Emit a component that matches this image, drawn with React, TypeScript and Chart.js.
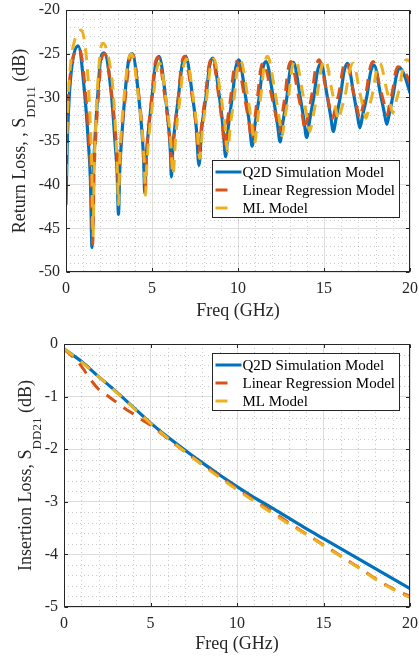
import React, { useEffect, useRef } from "react";
import { Chart, registerables } from "chart.js";

Chart.register(...registerables);

const FONT = "'Liberation Serif', 'Times New Roman', serif";
const TEXT = "#262626";
const C_Q2D = "#0072BD";
const C_LR = "#D95319";
const C_ML = "#EDB120";

const seriesNames = ["Q2D Simulation Model", "Linear Regression Model", "ML Model"];

// ---------- Return loss (SDD11) ----------
const rlFreqQ2D = [0, 0.08, 0.19, 0.37, 0.71, 1.1, 1.29, 1.42, 1.51, 1.59, 1.68, 1.84, 2.0, 2.22, 2.65, 2.84, 2.97, 3.05, 3.13, 3.23, 3.42, 3.62, 3.86, 4.22, 4.44, 4.52, 4.58, 4.66, 4.75, 5.0, 5.2, 5.41, 5.77, 5.99, 6.07, 6.13, 6.21, 6.3, 6.55, 6.75, 6.96, 7.35, 7.58, 7.73, 7.89, 8.14, 8.35, 8.54, 8.91, 9.13, 9.28, 9.43, 9.67, 9.87, 10.05, 10.44, 10.67, 10.82, 10.98, 11.23, 11.43, 11.63, 12.04, 12.29, 12.45, 12.6, 12.84, 13.03, 13.22, 13.61, 13.84, 13.99, 14.16, 14.41, 14.62, 14.82, 15.18, 15.4, 15.54, 15.71, 15.96, 16.17, 16.37, 16.73, 16.94, 17.08, 17.25, 17.5, 17.71, 17.91, 18.28, 18.5, 18.65, 18.8, 19.03, 19.22, 19.4, 19.7, 20.0];
const rlQ2D = [-42.3, -34.9, -29.9, -26.0, -24.1, -29.9, -34.9, -39.5, -47.2, -39.0, -34.9, -29.9, -25.8, -24.9, -29.9, -34.9, -38.5, -43.4, -38.0, -34.9, -29.9, -26.0, -25.0, -29.8, -34.6, -37.5, -41.0, -37.0, -34.7, -30.0, -26.3, -25.3, -29.7, -33.9, -36.3, -39.1, -35.8, -33.9, -29.7, -26.3, -25.3, -29.8, -33.6, -37.8, -33.6, -29.9, -26.4, -25.5, -29.8, -33.4, -36.8, -33.5, -29.9, -26.6, -25.7, -29.9, -33.1, -35.6, -33.2, -30.0, -26.8, -25.9, -29.9, -33.0, -35.1, -33.0, -30.0, -26.9, -26.0, -29.9, -32.7, -34.6, -32.7, -29.9, -27.0, -26.1, -29.8, -32.3, -33.9, -32.3, -29.8, -27.0, -26.1, -29.7, -32.0, -33.5, -32.0, -29.8, -27.1, -26.3, -29.6, -31.7, -33.1, -31.8, -29.6, -27.4, -26.6, -27.6, -29.5];

const rlFreqLR = [0, 0.12, 0.3, 0.5, 0.77, 1.16, 1.39, 1.47, 1.55, 1.63, 1.72, 1.88, 2.04, 2.26, 2.66, 2.89, 2.98, 3.05, 3.13, 3.22, 3.47, 3.68, 3.88, 4.24, 4.46, 4.54, 4.6, 4.68, 4.75, 4.98, 5.16, 5.35, 5.75, 5.99, 6.08, 6.15, 6.22, 6.3, 6.53, 6.71, 6.9, 7.31, 7.56, 7.72, 7.88, 8.11, 8.31, 8.5, 8.86, 9.08, 9.22, 9.36, 9.58, 9.76, 9.93, 10.37, 10.63, 10.8, 10.94, 11.14, 11.31, 11.48, 11.94, 12.22, 12.4, 12.54, 12.74, 12.91, 13.08, 13.49, 13.74, 13.9, 14.06, 14.31, 14.52, 14.72, 15.11, 15.34, 15.5, 15.66, 15.9, 16.1, 16.3, 16.69, 16.92, 17.08, 17.24, 17.47, 17.67, 17.86, 18.27, 18.52, 18.68, 18.8, 18.99, 19.15, 19.3, 19.65, 20.0];
const rlLR = [-33.4, -30.0, -26.5, -24.9, -24.4, -30.0, -36.7, -41.0, -46.8, -39.0, -35.0, -30.0, -25.9, -25.0, -29.7, -34.3, -37.0, -40.5, -37.0, -34.3, -29.7, -26.0, -25.1, -29.8, -34.5, -37.5, -40.8, -37.0, -34.6, -30.0, -26.3, -25.4, -30.0, -33.9, -35.8, -38.3, -35.8, -33.9, -30.0, -26.3, -25.3, -29.6, -33.1, -36.5, -33.2, -29.7, -26.4, -25.5, -29.6, -33.0, -35.6, -33.1, -29.9, -26.8, -25.9, -29.9, -32.8, -34.9, -32.9, -29.9, -26.9, -26.0, -29.7, -32.3, -33.9, -32.3, -29.7, -26.8, -25.9, -29.6, -32.1, -33.7, -32.1, -29.5, -26.6, -25.7, -29.0, -31.2, -32.4, -31.2, -29.2, -26.7, -25.9, -29.2, -31.2, -32.4, -31.2, -29.2, -26.7, -25.9, -29.0, -30.9, -32.0, -30.9, -29.2, -27.2, -26.5, -26.9, -28.3];

const rlFreqML = [0, 0.1, 0.25, 0.5, 0.88, 1.2, 1.38, 1.5, 1.57, 1.64, 1.72, 1.85, 2.0, 2.15, 2.5, 2.75, 2.9, 2.99, 3.05, 3.12, 3.2, 3.4, 3.6, 3.8, 4.21, 4.46, 4.56, 4.62, 4.7, 4.79, 5.04, 5.25, 5.45, 5.84, 6.07, 6.22, 6.38, 6.61, 6.82, 7.0, 7.39, 7.62, 7.77, 7.94, 8.19, 8.4, 8.6, 9.0, 9.24, 9.4, 9.55, 9.78, 9.96, 10.15, 10.56, 10.8, 10.96, 11.11, 11.34, 11.53, 11.72, 12.14, 12.39, 12.56, 12.72, 12.96, 13.15, 13.35, 13.76, 14.01, 14.17, 14.35, 14.62, 14.85, 15.07, 15.46, 15.69, 15.84, 16.01, 16.27, 16.49, 16.7, 17.07, 17.29, 17.44, 17.6, 17.85, 18.05, 18.25, 18.63, 18.85, 19.0, 19.16, 19.4, 19.6, 19.8, 20.0];
const rlML = [-39.0, -31.5, -26.5, -23.5, -22.3, -25.7, -31.5, -38.0, -46.0, -38.0, -33.5, -28.3, -24.6, -23.8, -25.7, -29.5, -34.5, -38.5, -42.3, -37.5, -34.2, -29.5, -26.0, -25.0, -29.9, -34.7, -37.8, -41.2, -37.8, -35.2, -30.6, -27.0, -26.1, -30.7, -34.5, -38.9, -34.4, -30.4, -26.6, -25.6, -29.9, -33.6, -37.0, -33.6, -29.9, -26.5, -25.6, -29.8, -33.2, -36.2, -33.3, -30.0, -26.7, -25.8, -29.9, -33.0, -35.3, -33.0, -29.6, -26.3, -25.3, -29.3, -32.3, -34.4, -32.4, -29.6, -26.6, -25.7, -29.5, -32.3, -33.9, -32.3, -29.5, -26.6, -25.7, -29.2, -31.4, -32.6, -31.4, -29.4, -26.9, -26.1, -29.3, -31.3, -32.4, -31.3, -29.3, -26.9, -26.1, -29.0, -30.8, -31.8, -30.7, -28.8, -26.5, -25.7, -25.9];

// ---------- Insertion loss (SDD21) ----------
const ilFreq = [0, 1, 2, 3, 4, 5, 6, 7, 8, 9, 10, 11, 12, 13, 14, 15, 16, 17, 18, 19, 20];
const ilQ2D = [-0.09, -0.33, -0.62, -0.9, -1.2, -1.5, -1.77, -2.02, -2.26, -2.49, -2.71, -2.92, -3.11, -3.31, -3.51, -3.7, -3.89, -4.08, -4.27, -4.46, -4.65];
const ilML = [-0.09, -0.34, -0.62, -0.91, -1.21, -1.51, -1.79, -2.05, -2.3, -2.54, -2.77, -2.99, -3.21, -3.42, -3.62, -3.83, -4.04, -4.25, -4.47, -4.66, -4.82];
const ilFreqLR = [0, 0.5, 1, 1.5, 2, 2.5, 3, 3.5, 4, 4.5, 5, 6, 7, 8, 9, 10, 11, 12, 13, 14, 15, 16, 17, 18, 19, 20];
const ilLR = [-0.1, -0.24, -0.42, -0.66, -0.86, -0.98, -1.1, -1.22, -1.33, -1.44, -1.54, -1.8, -2.05, -2.29, -2.52, -2.75, -2.97, -3.18, -3.4, -3.61, -3.82, -4.03, -4.24, -4.46, -4.65, -4.8];

// tick settings
const xTicks = { min: 0, max: 20, major: 5, minor: 1 };
const rlTicks = { min: -50, max: -20, major: 5, minor: 1 };
const ilTicks = { min: -5, max: 0, major: 1, minor: 0.2 };

const pts = (xs: number[], ys: number[]) => xs.map((x, i) => ({ x, y: ys[i] }));

type PanelCfg = {
  yMain: string;
  ySub: string;
  yAfter: string;
  yTitleOffset: number;
  legendTop: number;
  legendRight: number;
  yT: typeof rlTicks;
  xTitleOffset: number;
};

function makeFramePlugin(cfg: PanelCfg) {
  return {
    id: "matlabFrame",
    beforeDatasetsDraw(chart: any) {
      const { ctx, chartArea: a, scales } = chart;
      const xs = scales.x;
      const ys = scales.y;
      ctx.save();
      ctx.strokeStyle = "rgba(38,38,38,0.24)";
      ctx.lineWidth = 1;
      ctx.setLineDash([1, 3]);
      const nx = Math.round((xTicks.max - xTicks.min) / xTicks.minor);
      for (let i = 0; i <= nx; i++) {
        const v = xTicks.min + i * xTicks.minor;
        const r = v / xTicks.major;
        if (Math.abs(r - Math.round(r)) < 1e-6) continue;
        const px = Math.round(xs.getPixelForValue(v)) + 0.5;
        ctx.beginPath();
        ctx.moveTo(px, a.top);
        ctx.lineTo(px, a.bottom);
        ctx.stroke();
      }
      const yt = cfg.yT;
      const ny = Math.round((yt.max - yt.min) / yt.minor);
      for (let i = 0; i <= ny; i++) {
        const v = yt.min + i * yt.minor;
        const r = v / yt.major;
        if (Math.abs(r - Math.round(r)) < 1e-6) continue;
        const py = Math.round(ys.getPixelForValue(v)) + 0.5;
        ctx.beginPath();
        ctx.moveTo(a.left, py);
        ctx.lineTo(a.right, py);
        ctx.stroke();
      }
      ctx.restore();
    },
    afterDraw(chart: any) {
      const { ctx, chartArea: a, scales } = chart;
      const xs = scales.x;
      const ys = scales.y;
      ctx.save();
      ctx.strokeStyle = TEXT;
      ctx.lineWidth = 1;
      ctx.setLineDash([]);
      const L = Math.round(a.left) + 0.5;
      const R = Math.round(a.right) - 0.5;
      const T = Math.round(a.top) + 0.5;
      const B = Math.round(a.bottom) - 0.5;
      ctx.strokeRect(L, T, R - L, B - T);
      const tl = 3.5;
      ctx.beginPath();
      const nxm = Math.round((xTicks.max - xTicks.min) / xTicks.major);
      for (let i = 0; i <= nxm; i++) {
        const px = Math.round(xs.getPixelForValue(xTicks.min + i * xTicks.major)) + 0.5;
        ctx.moveTo(px, B);
        ctx.lineTo(px, B - tl);
        ctx.moveTo(px, T);
        ctx.lineTo(px, T + tl);
      }
      const yt = cfg.yT;
      const nym = Math.round((yt.max - yt.min) / yt.major);
      for (let i = 0; i <= nym; i++) {
        const py = Math.round(ys.getPixelForValue(yt.min + i * yt.major)) + 0.5;
        ctx.moveTo(L, py);
        ctx.lineTo(L + tl, py);
        ctx.moveTo(R, py);
        ctx.lineTo(R - tl, py);
      }
      ctx.stroke();

      ctx.fillStyle = TEXT;
      ctx.font = `18px ${FONT}`;
      ctx.textAlign = "center";
      ctx.textBaseline = "middle";
      ctx.fillText("Freq (GHz)", (a.left + a.right) / 2, a.bottom + cfg.xTitleOffset);

      ctx.save();
      ctx.translate(a.left - cfg.yTitleOffset, (a.top + a.bottom) / 2);
      ctx.rotate(-Math.PI / 2);
      ctx.textAlign = "left";
      ctx.textBaseline = "alphabetic";
      const mainFont = `18px ${FONT}`;
      const subFont = `13px ${FONT}`;
      ctx.font = mainFont;
      const w1 = ctx.measureText(cfg.yMain).width;
      const w3 = ctx.measureText(cfg.yAfter).width;
      ctx.font = subFont;
      const w2 = ctx.measureText(cfg.ySub).width;
      let cx = -(w1 + w2 + w3) / 2;
      ctx.font = mainFont;
      ctx.fillText(cfg.yMain, cx, 0);
      cx += w1;
      ctx.font = subFont;
      ctx.fillText(cfg.ySub, cx, 10);
      cx += w2;
      ctx.font = mainFont;
      ctx.fillText(cfg.yAfter, cx, 0);
      ctx.restore();

      const lw = 187;
      const lh = 57;
      const lx = Math.round(a.right - cfg.legendRight - lw) + 0.5;
      const ly = Math.round(a.top + cfg.legendTop) + 0.5;
      ctx.fillStyle = "#ffffff";
      ctx.fillRect(lx, ly, lw, lh);
      ctx.strokeStyle = TEXT;
      ctx.lineWidth = 1;
      ctx.strokeRect(lx, ly, lw, lh);
      const colors = [C_Q2D, C_LR, C_ML];
      ctx.font = `15px ${FONT}`;
      ctx.textAlign = "left";
      ctx.textBaseline = "middle";
      seriesNames.forEach((name, i) => {
        const ry = ly + 11.5 + i * 18;
        ctx.strokeStyle = colors[i];
        ctx.lineWidth = 3;
        ctx.beginPath();
        ctx.moveTo(lx + 3, ry);
        ctx.lineTo(lx + (i === 0 ? 29 : 15), ry);
        ctx.stroke();
        ctx.fillStyle = "#000000";
        ctx.fillText(name, lx + 30, ry + 1);
      });
      ctx.restore();
    },
  };
}

function lineDs(label: string, data: any[], color: string, dashed: boolean, order: number) {
  return {
    label,
    data,
    borderColor: color,
    backgroundColor: color,
    borderWidth: dashed ? 3 : 3.2,
    borderDash: dashed ? [12, 9] : [],
    pointRadius: 0,
    pointHoverRadius: 0,
    fill: false,
    cubicInterpolationMode: "monotone",
    order,
  };
}

function zeroPad(s: any) {
  s.paddingTop = 0;
  s.paddingBottom = 0;
  s.paddingLeft = 0;
  s.paddingRight = 0;
}

function buildConfig(datasets: any[], yT: typeof rlTicks, yWidth: number, xHeight: number, padTop: number, cfg: PanelCfg) {
  return {
    type: "line",
    data: { datasets },
    plugins: [makeFramePlugin(cfg)],
    options: {
      animation: false,
      responsive: true,
      maintainAspectRatio: false,
      devicePixelRatio: 1,
      layout: { padding: { left: 0, right: 9, top: padTop, bottom: 0 } },
      plugins: { legend: { display: false }, tooltip: { enabled: false } },
      events: [],
      scales: {
        x: {
          type: "linear",
          min: xTicks.min,
          max: xTicks.max,
          border: { display: false },
          grid: { color: "#dedede", lineWidth: 1, drawTicks: false },
          ticks: {
            stepSize: xTicks.major,
            color: TEXT,
            font: { family: FONT, size: 16 },
            padding: 7,
            maxRotation: 0,
          },
          afterFit: (s: any) => {
            s.height = xHeight;
            zeroPad(s);
          },
        },
        y: {
          type: "linear",
          min: yT.min,
          max: yT.max,
          border: { display: false },
          grid: { color: "#dedede", lineWidth: 1, drawTicks: false },
          ticks: {
            stepSize: yT.major,
            color: TEXT,
            font: { family: FONT, size: 16 },
            padding: 6,
          },
          afterFit: (s: any) => {
            s.width = yWidth;
            zeroPad(s);
          },
        },
      },
    },
  };
}

function Panel({ top, height, config }: { top: number; height: number; config: () => any }) {
  const ref = useRef<HTMLCanvasElement | null>(null);
  useEffect(() => {
    if (!ref.current) return;
    const chart = new Chart(ref.current, config());
    return () => chart.destroy();
  }, []);
  return (
    <div style={{ position: "absolute", left: 0, top, width: 419, height }}>
      <canvas ref={ref} />
    </div>
  );
}

export default function App() {
  const topConfig = () =>
    buildConfig(
      [
        lineDs(seriesNames[0], pts(rlFreqQ2D, rlQ2D), C_Q2D, false, 3),
        lineDs(seriesNames[1], pts(rlFreqLR, rlLR), C_LR, true, 2),
        lineDs(seriesNames[2], pts(rlFreqML, rlML), C_ML, true, 1),
      ],
      rlTicks,
      66,
      48,
      10,
      {
        yMain: "Return Loss, , S",
        ySub: "DD11",
        yAfter: " (dB)",
        yTitleOffset: 41,
        legendTop: 150,
        legendRight: 11,
        yT: rlTicks,
        xTitleOffset: 39,
      }
    );
  const bottomConfig = () =>
    buildConfig(
      [
        lineDs(seriesNames[0], pts(ilFreq, ilQ2D), C_Q2D, false, 3),
        lineDs(seriesNames[1], pts(ilFreqLR, ilLR), C_LR, true, 2),
        lineDs(seriesNames[2], pts(ilFreq, ilML), C_ML, true, 1),
      ],
      ilTicks,
      64,
      51,
      24,
      {
        yMain: "Insertion Loss, S",
        ySub: "DD21",
        yAfter: " (dB)",
        yTitleOffset: 33,
        legendTop: 9,
        legendRight: 11,
        yT: ilTicks,
        xTitleOffset: 37,
      }
    );
  return (
    <div style={{ position: "fixed", left: 0, top: 0, width: 419, height: 658, background: "#ffffff" }}>
      <Panel top={0} height={320} config={topConfig} />
      <Panel top={320} height={338} config={bottomConfig} />
    </div>
  );
}
